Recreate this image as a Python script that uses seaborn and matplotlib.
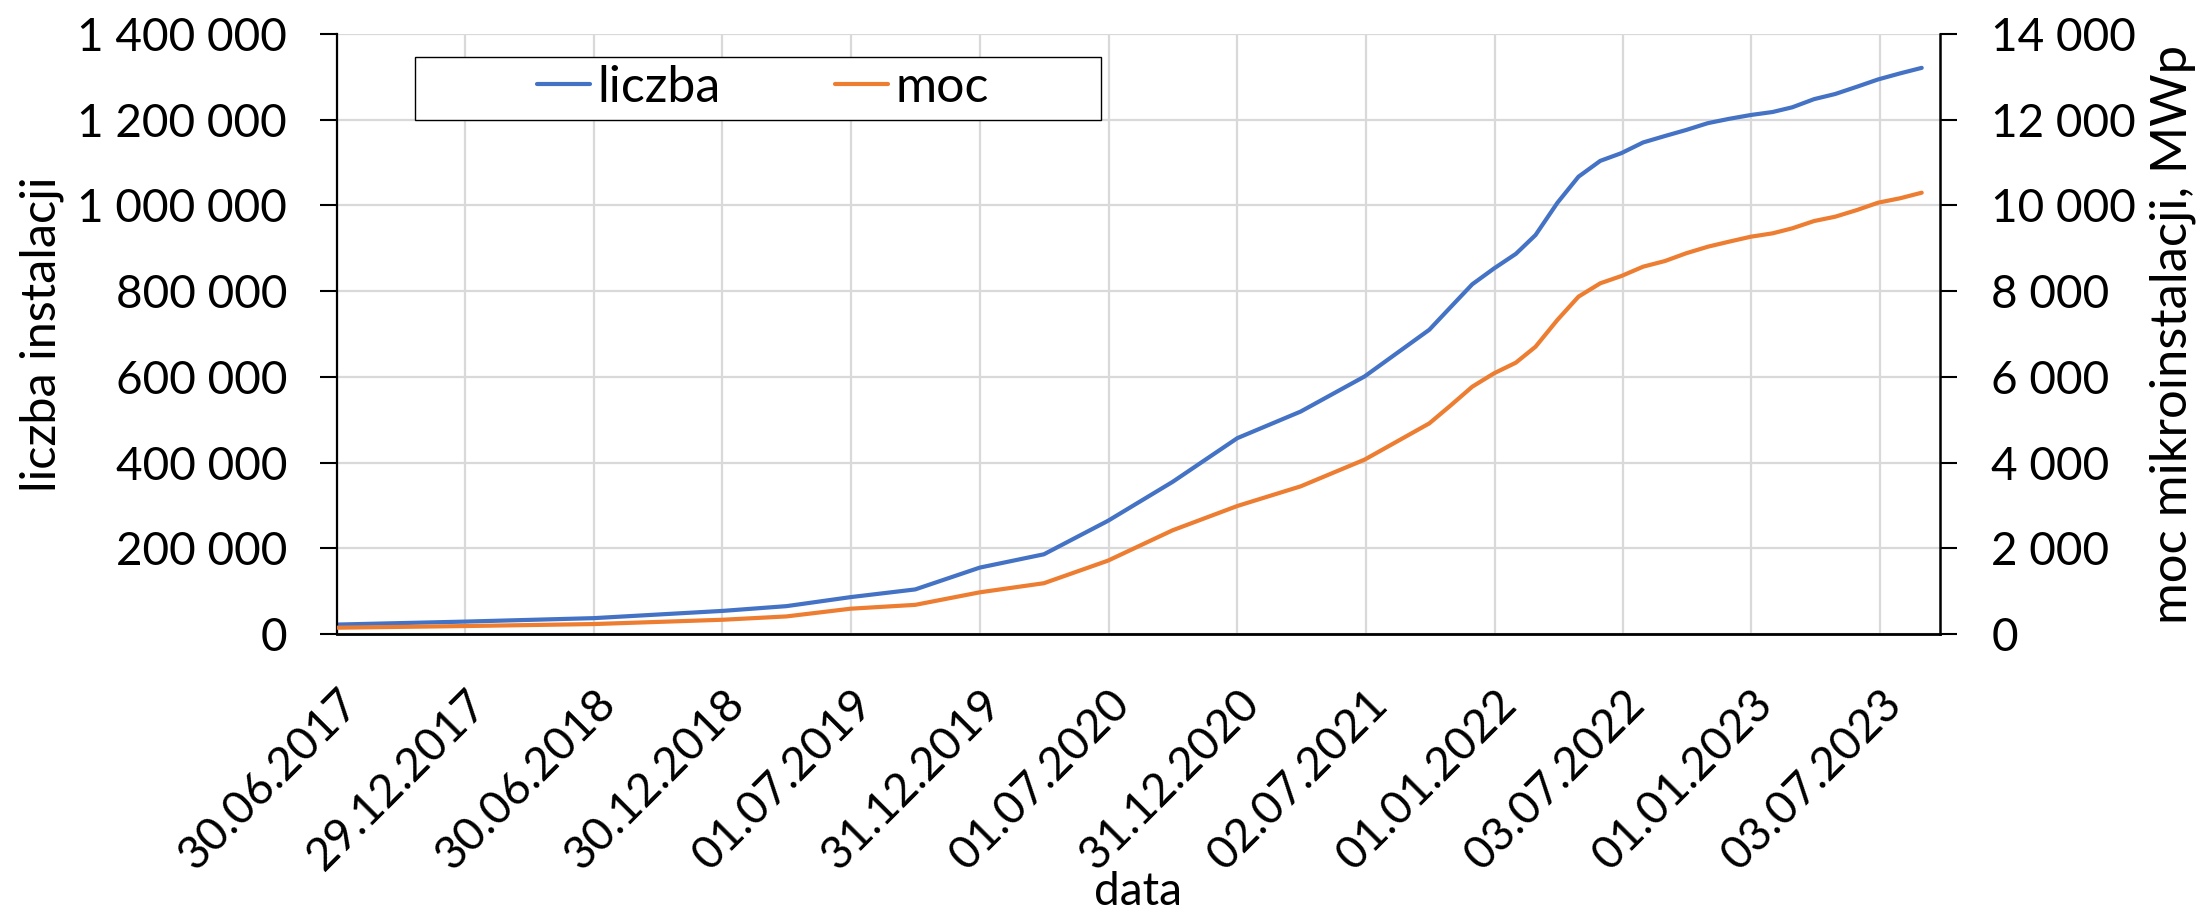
import datetime as dt
import matplotlib
matplotlib.use("Agg")
import matplotlib.pyplot as plt
import pandas as pd
import seaborn as sns
from matplotlib.lines import Line2D
from matplotlib.patches import Rectangle
from matplotlib.ticker import FuncFormatter, MultipleLocator

# ---------------- data ----------------
dates = ["2017-06-30", "2017-12-31", "2018-06-30", "2018-12-31", "2019-03-31",
         "2019-06-30", "2019-09-30", "2019-12-31", "2020-03-31", "2020-06-30",
         "2020-09-30", "2020-12-31", "2021-03-31", "2021-06-30", "2021-09-30",
         "2021-10-31", "2021-11-30", "2021-12-31", "2022-01-31", "2022-02-28",
         "2022-03-31", "2022-04-30", "2022-05-31", "2022-06-30", "2022-07-31",
         "2022-08-31", "2022-09-30", "2022-10-31", "2022-11-30", "2022-12-31",
         "2023-01-31", "2023-02-28", "2023-03-31", "2023-04-30", "2023-05-31",
         "2023-06-30", "2023-07-31", "2023-08-31"]

liczba = [22000, 29000, 37000, 54000, 65000, 86000, 104000, 155000, 186000, 264000,
          355000, 457000, 519000, 601000, 710000, 764000, 816000, 853000, 887000, 931000,
          1006000, 1067000, 1104000, 1122000, 1147000, 1162000, 1176000, 1192000, 1202000,
          1211000, 1218000, 1229000, 1248000, 1260000, 1277000, 1294000, 1308000, 1321000]

moc = [147, 186, 232, 333, 410, 590, 680, 973, 1185, 1711,
       2420, 2987, 3445, 4069, 4915, 5343, 5770, 6083, 6331, 6704,
       7327, 7871, 8183, 8353, 8571, 8703, 8883, 9037, 9154, 9270,
       9349, 9466, 9636, 9737, 9893, 10064, 10166, 10297]

x_tick_labels = ["30.06.2017", "29.12.2017", "30.06.2018", "30.12.2018", "01.07.2019",
                 "31.12.2019", "01.07.2020", "31.12.2020", "02.07.2021", "01.01.2022",
                 "03.07.2022", "01.01.2023", "03.07.2023"]

series_names = ["liczba", "moc"]
x_title = "data"
y1_title = "liczba instalacji"
y2_title = "moc mikroinstalacji, MWp"

# ---------------- style ----------------
BLUE = "#4472C4"
ORANGE = "#ED7D31"
GRID = "#D9D9D9"

sns.set_theme(style="white")
plt.rcParams["font.family"] = ["Lato", "DejaVu Sans"]
plt.rcParams["text.color"] = "black"
plt.rcParams["axes.labelcolor"] = "black"
plt.rcParams["xtick.color"] = "black"
plt.rcParams["ytick.color"] = "black"

df = pd.DataFrame({"data": pd.to_datetime(dates), "liczba": liczba, "moc": moc})

W, H = 2211, 913
fig = plt.figure(figsize=(W / 100, H / 100), dpi=100)
fig.patch.set_facecolor("white")

L, R, T, B = 337, 1940, 34, 634
ax = fig.add_axes([L / W, 1 - B / H, (R - L) / W, (B - T) / H])
ax2 = ax.twinx()

sns.lineplot(data=df, x="data", y="liczba", ax=ax, color=BLUE, linewidth=3.0, legend=False)
sns.lineplot(data=df, x="data", y="moc", ax=ax2, color=ORANGE, linewidth=3.0, legend=False)

# x axis
xticks = [dt.datetime.strptime(s, "%d.%m.%Y") for s in x_tick_labels]
ax.set_xlim(dt.datetime(2017, 6, 30), dt.datetime(2023, 9, 26))
ax.set_xticks(xticks)
ax.set_xticklabels(x_tick_labels, rotation=45, ha="right", va="top",
                   rotation_mode="anchor", fontsize=33)
ax.tick_params(axis="x", length=0, pad=35)

# y axes
fmt = FuncFormatter(lambda v, p: f"{int(round(v)):,}".replace(",", " "))
ax.set_ylim(0, 1400000)
ax.yaxis.set_major_locator(MultipleLocator(200000))
ax.yaxis.set_major_formatter(fmt)
ax2.set_ylim(0, 14000)
ax2.yaxis.set_major_locator(MultipleLocator(2000))
ax2.yaxis.set_major_formatter(fmt)

ax.tick_params(axis="y", direction="out", length=12, width=1.5, pad=24, labelsize=33,
               left=True)
ax2.tick_params(axis="y", direction="out", length=12, width=1.5, pad=25, labelsize=33,
                right=True)

ax.grid(True, color=GRID, linewidth=1.6)
ax2.grid(False)
ax.set_axisbelow(True)

for s in ["top", "right"]:
    ax.spines[s].set_visible(False)
for s in ["top", "left", "bottom"]:
    ax2.spines[s].set_visible(False)
ax.spines["left"].set_color("black")
ax.spines["left"].set_linewidth(1.6)
ax.spines["bottom"].set_color("black")
ax.spines["bottom"].set_linewidth(2.0)
ax2.spines["right"].set_color("black")
ax2.spines["right"].set_linewidth(1.8)

# titles
ax.set_xlabel(x_title, fontsize=33)
ax.xaxis.set_label_coords(0.5, -0.395)
ax.xaxis.label.set_va("top")
ax.set_ylabel(y1_title, fontsize=35)
ax.yaxis.set_label_coords(-0.170, 0.5)
ax2.set_ylabel(y2_title, fontsize=36.5)
ax2.yaxis.set_label_coords(1.131, 0.5)

# legend box and legend
box = Rectangle((415 / W, 1 - 120 / H), (1101 - 415) / W, 63 / H,
                transform=fig.transFigure, facecolor="white", edgecolor="black",
                linewidth=1.0, zorder=3)
fig.patches.append(box)
handles = [Line2D([], [], color=BLUE, linewidth=3.0),
           Line2D([], [], color=ORANGE, linewidth=3.0)]
fig.legend(handles, series_names, loc="center left",
           bbox_to_anchor=(537 / W, 1 - 88 / H), bbox_transform=fig.transFigure,
           ncol=2, frameon=False, fontsize=36, handlelength=1.06,
           handletextpad=0.14, columnspacing=2.3, borderpad=0, borderaxespad=0)

fig.savefig("out.png", dpi=100, facecolor="white")
